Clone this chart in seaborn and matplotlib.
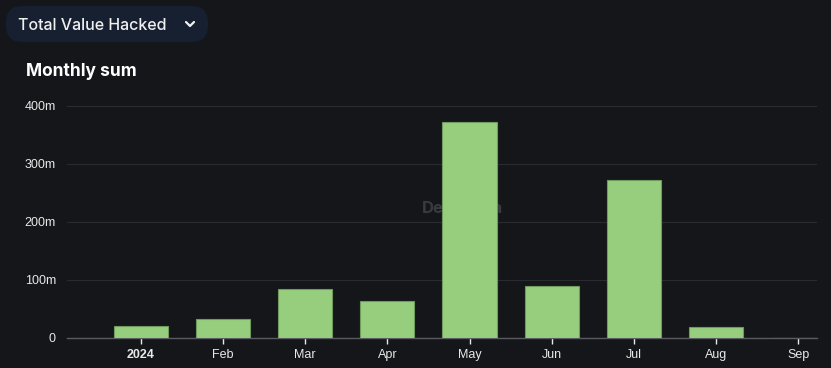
import matplotlib.pyplot as plt
import pandas as pd
import seaborn as sns
from matplotlib.lines import Line2D
from matplotlib.patches import FancyBboxPatch

# monthly totals in millions
months = ["Jan", "Feb", "Mar", "Apr", "May", "Jun", "Jul", "Aug", "Sep"]
tick_labels = ["2024", "Feb", "Mar", "Apr", "May", "Jun", "Jul", "Aug", "Sep"]
hacked_m = [21, 33, 84, 64, 372, 90, 272, 19, 0]
y_ticks = [0, 100, 200, 300, 400]
y_tick_labels = ["0", "100m", "200m", "300m", "400m"]

BG = "#151619"
BAR = "#97ce7e"

sns.set_style("dark")
plt.rcParams["font.family"] = ["Inter", "DejaVu Sans"]

fig = plt.figure(figsize=(8.31, 3.68), dpi=100, facecolor=BG)
ax = fig.add_axes([67 / 831, 30 / 368, 750 / 831, 238 / 368])
ax.set_facecolor(BG)

df = pd.DataFrame({"month": months, "value": hacked_m})
sns.barplot(
    data=df, x="month", y="value", color=BAR, width=0.66,
    edgecolor="#6f9a5c", linewidth=0.8, saturation=1, ax=ax, zorder=3,
)

ax.set_xlim(-0.9, 8.23)
ax.set_ylim(0, 410)
ax.set_yticks(y_ticks)
ax.set_yticklabels(y_tick_labels, family=["Liberation Sans", "DejaVu Sans"])
ax.set_xticks(range(len(months)))
ax.set_xticklabels(tick_labels, family=["Liberation Sans", "DejaVu Sans"])
ax.get_xticklabels()[0].set_fontweight("bold")
ax.set_xlabel("")
ax.set_ylabel("")

ax.grid(axis="y", color="#2a2b30", linewidth=0.8, zorder=0)
ax.grid(axis="x", visible=False)
for side in ["top", "right", "left"]:
    ax.spines[side].set_visible(False)
ax.spines["bottom"].set_color("#5a5b60")
ax.spines["bottom"].set_linewidth(1)
ax.tick_params(axis="x", colors="#e8e8e8", length=4, width=1, labelsize=9, pad=4,
               bottom=True, color="#e8e8e8")
ax.tick_params(axis="y", colors="#e8e8e8", length=0, labelsize=9, pad=8)

# faint watermark
ax.text(0.473, 0.545, "DefiLlama", transform=ax.transAxes, ha="left", va="center",
        fontsize=12, fontweight="bold", color="#3a3b3f", zorder=1)

# header button
btn = FancyBboxPatch((6 / 831, 1 - 42 / 368), 202 / 831, 36 / 368,
                     boxstyle="round,pad=0,rounding_size=0.02",
                     transform=fig.transFigure, facecolor="#172030",
                     edgecolor="none", mutation_aspect=831 / 368)
fig.patches.append(btn)
fig.text(18 / 831, 1 - 25 / 368, "Total Value Hacked", color="#f0f0f0",
         fontsize=11.5, fontweight="medium", va="center", ha="left")
fig.lines.append(Line2D([186 / 831, 190 / 831, 194 / 831],
                        [1 - 22 / 368, 1 - 26 / 368, 1 - 22 / 368],
                        transform=fig.transFigure, color="#f0f0f0",
                        linewidth=1.6, solid_capstyle="round",
                        solid_joinstyle="round"))

fig.text(26 / 831, 1 - 72 / 368, "Monthly sum", color="#ffffff",
         fontsize=12.5, fontweight="bold", va="center", ha="left")

fig.savefig("out.png", dpi=100, facecolor=BG)
